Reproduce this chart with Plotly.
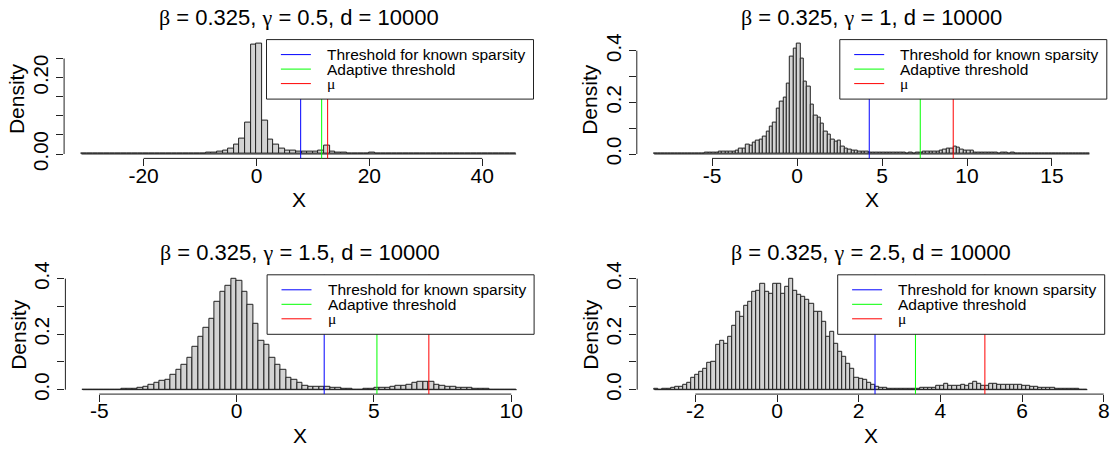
import plotly.graph_objects as go

W, H = 1116, 451

# ---------------- data ----------------
beta = "0.325"
gammas = ["0.5", "1", "1.5", "2.5"]
d_val = "10000"
legend_labels = ["Threshold for known sparsity", "Adaptive threshold", "μ"]
line_colors = ["#0000FF", "#00FF00", "#FF0000"]

# panel 1 (gamma = 0.5): histogram breaks start, bin width, densities
p1_start, p1_bw = -31.0, 1.0
p1_density = [0.0001, 0, 0, 0, 0, 0, 0, 0, 0, 0, 0, 0, 0, 0, 0, 0, 0,
              0.0008, 0.001, 0.001, 0.0012, 0.0015, 0.0025, 0.0044, 0.006, 0.0087,
              0.0148, 0.0236, 0.041, 0.083, 0.2855, 0.288, 0.0864, 0.0384, 0.0236,
              0.0148, 0.0096, 0.0079, 0.006, 0.006, 0.007, 0.006, 0.0079, 0.021,
              0.006, 0.0044, 0.0035, 0.002, 0.0015, 0.0015, 0.0005, 0.0025,
              0, 0, 0, 0, 0, 0, 0, 0, 0, 0, 0, 0, 0, 0, 0, 0, 0, 0, 0, 0, 0, 0, 0, 0,
              0.0001]
p1_vlines = [7.83, 11.55, 12.61]
p1_xticks = [-20, 0, 20, 40]
p1_yticks = [0, 0.05, 0.10, 0.15, 0.20, 0.25]
p1_ylabels = ["0.00", "", "", "", "0.20", ""]

# panel 2 (gamma = 1)
p2_start, p2_bw = -8.4, 0.2
p2_density = [0.0001, 0, 0, 0, 0, 0, 0.0005, 0, 0.0005, 0.002, 0.003, 0.002, 0.003,
              0.003, 0.003, 0.004, 0.004, 0.006, 0.006, 0.008, 0.008, 0.008, 0.009,
              0.009, 0.013, 0.022, 0.021, 0.035, 0.031, 0.044, 0.052, 0.054, 0.067,
              0.086, 0.108, 0.121, 0.177, 0.203, 0.219, 0.274, 0.377, 0.409, 0.426,
              0.370, 0.280, 0.260, 0.190, 0.147, 0.142, 0.119, 0.086, 0.074, 0.054,
              0.048, 0.050, 0.028, 0.022, 0.018, 0.013, 0.012, 0.010, 0.008, 0.008,
              0.006, 0.006, 0.005, 0.005, 0.004, 0.005, 0.004, 0.006, 0.004, 0.004,
              0.004, 0.003, 0.004, 0.003, 0.005, 0.006, 0.008, 0.009, 0.009, 0.010,
              0.009, 0.013, 0.018, 0.022, 0.022, 0.027, 0.025, 0.018, 0.013, 0.012,
              0.012, 0.007, 0.006, 0.006, 0.006, 0.006, 0.004, 0.004, 0.003, 0.004,
              0.004, 0.003, 0.004,
              0, 0, 0, 0, 0, 0, 0, 0, 0, 0, 0, 0, 0, 0, 0, 0, 0, 0, 0, 0, 0,
              0.0001]
p2_vlines = [4.25, 7.25, 9.19]
p2_xticks = [-5, 0, 5, 10, 15]
p2_yticks = [0, 0.1, 0.2, 0.3, 0.4]
p2_ylabels = ["0.0", "", "0.2", "", "0.4"]

# panel 3 (gamma = 1.5)
p3_start, p3_bw = -5.6, 0.2
p3_density = [0.0003, 0, 0, 0, 0.0006, 0.0012, 0.0012, 0.0015, 0.0018, 0.0024,
              0.005, 0.012, 0.019, 0.025, 0.032, 0.035, 0.055, 0.073, 0.088, 0.115,
              0.155, 0.191, 0.223, 0.256, 0.316, 0.354, 0.376, 0.398, 0.392, 0.354,
              0.307, 0.237, 0.175, 0.162, 0.114, 0.090, 0.070, 0.043, 0.037, 0.024,
              0.0144, 0.012, 0.012, 0.011, 0.011, 0.005, 0.005, 0.0024, 0.0024,
              0.0012, 0.0012, 0.0024, 0.0036, 0.005, 0.006, 0.006, 0.011, 0.013,
              0.0144, 0.018, 0.024, 0.0276, 0.0276, 0.0276, 0.019, 0.0156, 0.012,
              0.012, 0.0084, 0.0084, 0.006, 0.0024, 0.0018, 0.0015, 0.0012, 0.0012,
              0.0012, 0.0005, 0.0003]
p3_vlines = [3.19, 5.11, 7.00]
p3_xticks = [-5, 0, 5, 10]
p3_yticks = [0, 0.1, 0.2, 0.3, 0.4]
p3_ylabels = ["0.0", "", "0.2", "", "0.4"]

# panel 4 (gamma = 2.5)
p4_start, p4_bw = -3.0, 0.1
p4_density = [0.002, 0.001, 0.0036, 0.0024, 0.0084, 0.012, 0.0096, 0.018, 0.026, 0.044,
              0.054, 0.064, 0.076, 0.097, 0.100, 0.160, 0.175, 0.167, 0.189, 0.229,
              0.282, 0.261, 0.303, 0.315, 0.352, 0.357, 0.383, 0.354, 0.347, 0.381,
              0.381, 0.347, 0.372, 0.398, 0.357, 0.342, 0.334, 0.324, 0.309, 0.282,
              0.282, 0.244, 0.191, 0.207, 0.167, 0.136, 0.117, 0.095, 0.074, 0.042,
              0.040, 0.034, 0.024, 0.018, 0.011, 0.005, 0.005, 0.004, 0.004, 0.004,
              0.003, 0.0024, 0.0024, 0.003, 0.004, 0.005, 0.005, 0.006, 0.0084, 0.013,
              0.013, 0.022, 0.0156, 0.013, 0.0156, 0.018, 0.0156, 0.023, 0.030, 0.020,
              0.013, 0.0156, 0.022, 0.020, 0.019, 0.018, 0.017, 0.017, 0.016, 0.016,
              0.015, 0.013, 0.011, 0.009, 0.007, 0.006, 0.006, 0.005, 0.004, 0.0036,
              0.003, 0.002, 0.002, 0.002, 0.001, 0.001]
p4_vlines = [2.40, 3.39, 5.09]
p4_xticks = [-2, 0, 2, 4, 6, 8]
p4_yticks = [0, 0.1, 0.2, 0.3, 0.4]
p4_ylabels = ["0.0", "", "0.2", "", "0.4"]

# ---------------- layout (pixel boxes of plot regions) ----------------
FONT = "Liberation Sans, Arial, sans-serif"
SERIF = "Liberation Serif, DejaVu Serif, serif"
boxes = [
    (64.1, 533.5, 39.6, 158.4),
    (636.8, 1106.8, 39.6, 158.4),
    (65.4, 534.1, 274.8, 394.1),
    (637.2, 1104.7, 274.8, 394.1),
]
panels = [
    (p1_start, p1_bw, p1_density, p1_vlines, p1_xticks, p1_yticks, p1_ylabels),
    (p2_start, p2_bw, p2_density, p2_vlines, p2_xticks, p2_yticks, p2_ylabels),
    (p3_start, p3_bw, p3_density, p3_vlines, p3_xticks, p3_yticks, p3_ylabels),
    (p4_start, p4_bw, p4_density, p4_vlines, p4_xticks, p4_yticks, p4_ylabels),
]

fig = go.Figure()
shapes = []
annotations = []
layout_axes = {}

for k, ((start, bw, dens, vlines, xt, yt, yl), (px0, px1, py0, py1)) in enumerate(zip(panels, boxes)):
    n = k + 1
    xa = "x" if n == 1 else f"x{n}"
    ya = "y" if n == 1 else f"y{n}"
    xkey = "xaxis" if n == 1 else f"xaxis{n}"
    ykey = "yaxis" if n == 1 else f"yaxis{n}"

    nb = len(dens)
    lo = start
    hi = start + nb * bw
    centers = [start + (i + 0.5) * bw for i in range(nb)]
    ymax = max(dens)
    pad_x = 0.04 * (hi - lo)

    # zero-height bins show as a baseline in R's hist
    fig.add_trace(go.Scatter(x=[lo, hi], y=[0, 0], mode="lines",
                             line=dict(color="#222222", width=1),
                             xaxis=xa, yaxis=ya, showlegend=False, hoverinfo="skip"))
    fig.add_trace(go.Bar(x=centers, y=dens, width=bw,
                         marker=dict(color="#D3D3D3", line=dict(color="#222222", width=1)),
                         xaxis=xa, yaxis=ya, showlegend=False))

    layout_axes[xkey] = dict(
        domain=[px0 / W, px1 / W], range=[lo - pad_x, hi + pad_x], anchor=ya,
        tickvals=xt, ticktext=[str(v) for v in xt], ticks="outside", ticklen=7,
        tickwidth=1, tickcolor="#222222", showline=False, showgrid=False,
        zeroline=False, tickfont=dict(family=FONT, size=21, color="black"),
        ticklabelstandoff=-9, automargin=False, fixedrange=True)
    layout_axes[ykey] = dict(
        domain=[1 - py1 / H, 1 - py0 / H], range=[-0.04 * ymax, 1.04 * ymax], anchor=xa,
        tickvals=yt, ticktext=yl, ticks="outside", ticklen=7, tickangle=-90,
        tickwidth=1, tickcolor="#222222", showline=False, showgrid=False,
        zeroline=False, tickfont=dict(family=FONT, size=20.5, color="black"),
        automargin=False, fixedrange=True)

    # axis lines spanning first to last tick (R style)
    shapes.append(dict(type="line", xref=xa, yref=f"{ya} domain", x0=xt[0], x1=xt[-1],
                       y0=0, y1=0, line=dict(color="#222222", width=1)))
    shapes.append(dict(type="line", xref=f"{xa} domain", yref=ya, x0=0, x1=0,
                       y0=yt[0], y1=yt[-1], line=dict(color="#222222", width=1)))

    # vertical reference lines
    for v, c in zip(vlines, line_colors):
        shapes.append(dict(type="line", xref=xa, yref=f"{ya} domain", x0=v, x1=v,
                           y0=0, y1=1, line=dict(color=c, width=1), layer="above"))

    # legend box at top-right of plot region
    lw, lh = 267.0, 59.5
    lx1, ly0 = px1, py0
    lx0, ly1 = px1 - lw, py0 + lh
    shapes.append(dict(type="rect", xref="paper", yref="paper",
                       x0=lx0 / W, x1=lx1 / W, y0=1 - ly1 / H, y1=1 - ly0 / H,
                       fillcolor="white", line=dict(color="#222222", width=1), layer="above"))
    for j, (lab, c) in enumerate(zip(legend_labels, line_colors)):
        ry = ly0 + 15 + 14.5 * j
        shapes.append(dict(type="line", xref="paper", yref="paper",
                           x0=(lx0 + 14.4) / W, x1=(lx0 + 44.4) / W,
                           y0=1 - ry / H, y1=1 - ry / H,
                           line=dict(color=c, width=1), layer="above"))
        txt = lab if lab != "μ" else f"<span style='font-family:{SERIF}'>μ</span>"
        annotations.append(dict(text=txt, xref="paper", yref="paper",
                                x=(lx0 + 58.4) / W, y=1 - ry / H, xanchor="left",
                                yanchor="middle", showarrow=False,
                                font=dict(family=FONT, size=15.5, color="black")))

    cx = (px0 + px1) / 2
    cy = (py0 + py1) / 2
    title = (f"<span style='font-family:{SERIF}'>β</span> = {beta}, "
             f"<span style='font-family:{SERIF}'>γ</span> = {gammas[k]}, d = {d_val}")
    annotations.append(dict(text=title, xref="paper", yref="paper", x=cx / W,
                            y=1 - (py0 - 22.5) / H, xanchor="center", yanchor="middle",
                            showarrow=False, font=dict(family=FONT, size=22, color="black")))
    annotations.append(dict(text="X", xref="paper", yref="paper", x=cx / W,
                            y=1 - (py1 + 41) / H, xanchor="center", yanchor="middle",
                            showarrow=False, font=dict(family=FONT, size=21, color="black")))
    annotations.append(dict(text="Density", xref="paper", yref="paper", x=(px0 - 47) / W,
                            y=1 - cy / H, xanchor="center", yanchor="middle", textangle=-90,
                            showarrow=False, font=dict(family=FONT, size=21, color="black")))

fig.update_layout(
    width=W, height=H, margin=dict(l=0, r=0, t=0, b=0, pad=0, autoexpand=False),
    paper_bgcolor="white", plot_bgcolor="white",
    bargap=0, showlegend=False, shapes=shapes, annotations=annotations,
    font=dict(family=FONT, color="black"),
    **layout_axes)

fig.write_html("out.html")
